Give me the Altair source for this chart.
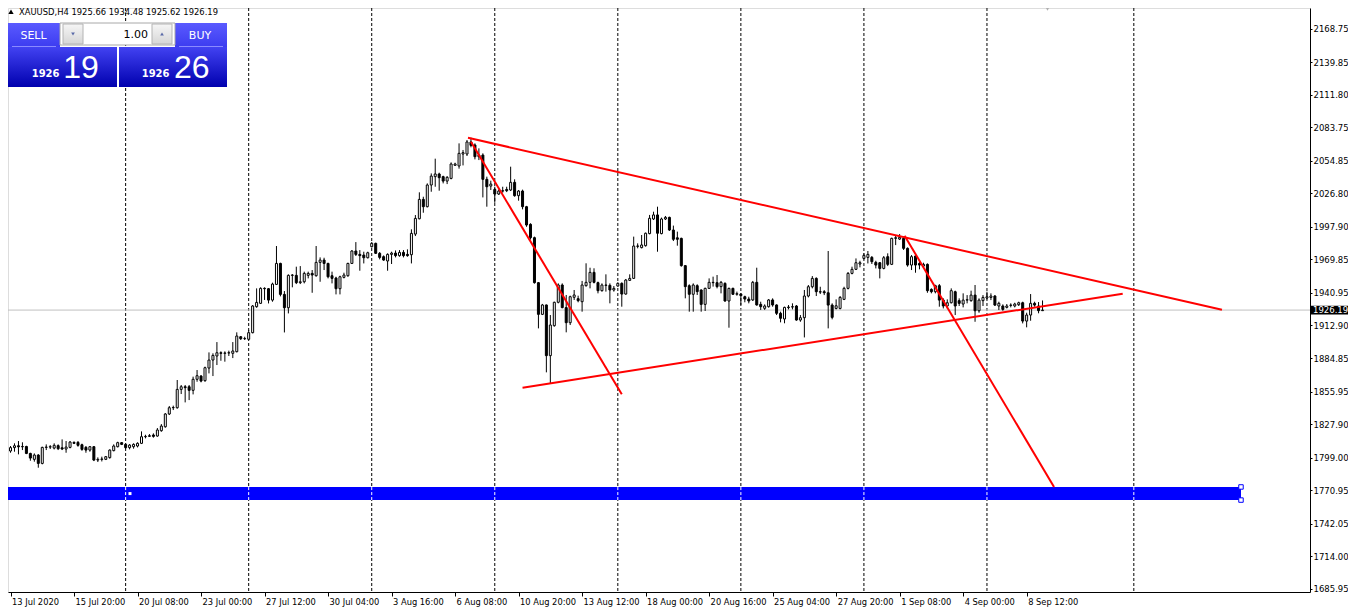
import altair as alt
import pandas as pd

# ---------------- data ----------------
O = [1804.7,1807.6,1809.2,1808.3,1808.6,1802.6,1797.5,1801.2,1794.0,1807.8,
     1808.1,1807.2,1809.3,1807.5,1806.4,1807.8,1812.1,1812.1,1810.1,1807.8,
     1805.5,1808.4,1796.9,1797.5,1797.5,1799.0,1805.0,1808.4,1811.9,1810.4,
     1807.6,1808.4,1809.0,1811.3,1817.0,1817.3,1818.5,1817.6,1822.2,1825.6,
     1836.6,1842.0,1842.0,1857.8,1860.1,1860.1,1857.0,1866.5,1869.3,1865.3,
     1876.2,1883.1,1886.6,1889.4,1888.9,1889.2,1888.9,1890.3,1903.2,1901.5,
     1901.0,1906.7,1929.1,1932.0,1944.9,1944.6,1934.8,1948.3,1966.4,1939.7,
     1928.2,1956.1,1956.1,1949.8,1950.6,1956.1,1957.8,1955.8,1967.3,1969.3,
     1966.4,1955.8,1953.8,1944.6,1954.4,1955.8,1966.4,1977.1,1974.2,1973.6,
     1971.3,1980.8,1983.7,1975.1,1972.2,1968.5,1974.2,1975.3,1973.1,1975.9,
     1974.2,1973.9,1991.7,2004.9,2021.6,2015.3,2034.0,2041.2,2043.5,2041.2,
     2037.4,2039.7,2051.0,2050.4,2060.7,2060.7,2071.1,2068.5,2058.4,2059.8,
     2038.9,2033.1,2030.2,2026.2,2028.8,2030.2,2029.7,2036.3,2024.8,2028.8,
     2015.3,2000.1,1988.6,1949.8,1922.5,1930.6,1886.9,1912.7,1932.9,1947.8,
     1928.3,1915.3,1937.2,1936.0,1933.4,1947.2,1950.1,1958.7,1949.8,1942.9,
     1947.8,1947.5,1943.5,1946.9,1949.2,1940.0,1951.8,1953.5,1981.4,1980.0,
     1981.7,1992.1,2004.7,2008.2,1992.1,2004.7,2006.1,1995.2,1988.5,1988.0,
     1964.5,1947.2,1939.8,1947.2,1943.5,1931.1,1944.9,1950.1,1949.8,1946.4,
     1949.2,1934.0,1944.9,1939.8,1940.0,1937.7,1935.7,1934.9,1950.1,1931.1,
     1927.7,1929.1,1934.9,1930.6,1923.4,1918.5,1928.3,1928.8,1929.7,1917.6,
     1919.6,1938.3,1946.3,1953.5,1942.0,1942.0,1941.1,1930.5,1927.6,1927.6,
     1935.4,1944.9,1957.8,1961.3,1965.9,1970.7,1971.6,1971.6,1967.3,1967.0,
     1962.1,1972.2,1965.6,1988.0,1987.4,1988.0,1979.4,1965.0,1972.8,1966.4,
     1964.1,1965.6,1944.0,1942.0,1947.2,1934.8,1929.7,1932.5,1942.0,1934.3,
     1931.4,1934.8,1934.3,1939.1,1925.6,1934.3,1936.6,1937.1,1938.3,1929.7,
     1929.7,1928.5,1930.2,1929.7,1930.8,1932.5,1916.7,1921.9,1932.0,1929.7,
     1925.66]
H = [1809.0,1811.3,1813.3,1812.2,1809.2,1803.2,1802.6,1802.0,1808.4,1810.4,
     1809.8,1811.3,1810.4,1814.7,1813.3,1813.3,1813.0,1813.3,1811.0,1809.0,
     1809.0,1809.0,1799.2,1799.8,1800.3,1806.1,1810.4,1812.7,1812.4,1811.3,
     1810.7,1811.3,1812.2,1821.6,1818.7,1819.3,1819.9,1824.5,1827.9,1837.4,
     1843.5,1843.8,1865.9,1861.6,1861.6,1861.6,1868.8,1874.5,1870.2,1877.4,
     1889.7,1888.9,1898.6,1890.6,1890.6,1891.2,1898.6,1907.0,1903.8,1903.2,
     1909.0,1930.5,1944.9,1945.8,1945.8,1945.2,1949.8,1981.4,1967.0,1942.6,
     1957.0,1957.2,1963.6,1964.1,1959.3,1959.3,1960.7,1981.4,1971.6,1971.3,
     1967.0,1959.3,1954.9,1955.8,1958.4,1967.0,1977.9,1984.8,1977.9,1976.5,
     1976.5,1984.8,1984.3,1976.2,1973.3,1975.1,1976.5,1977.6,1977.9,1977.9,
     1978.5,1995.8,2008.1,2027.7,2023.9,2035.4,2044.0,2056.7,2044.6,2042.0,
     2041.7,2053.5,2053.2,2069.9,2064.2,2072.8,2074.8,2069.9,2065.6,2061.3,
     2041.2,2037.7,2032.5,2030.2,2032.5,2032.5,2049.8,2038.9,2029.7,2030.0,
     2016.0,2001.0,1989.5,1950.4,1931.5,1930.9,1921.9,1933.4,1949.2,1949.2,
     1939.2,1938.6,1943.5,1938.6,1951.3,1966.5,1962.7,1962.2,1950.7,1949.2,
     1957.0,1949.2,1946.9,1950.1,1950.1,1953.0,1957.0,1989.5,1983.7,1990.9,
     1993.0,2008.2,2011.0,2015.3,2005.9,2007.3,2006.7,1999.0,1993.8,1988.6,
     1965.0,1948.4,1949.2,1948.4,1944.1,1945.5,1953.5,1955.0,1956.4,1951.3,
     1950.1,1945.5,1945.5,1942.1,1940.6,1938.6,1937.7,1951.3,1962.7,1933.4,
     1931.1,1935.7,1936.3,1931.1,1924.8,1929.1,1930.5,1932.0,1930.5,1921.9,
     1943.5,1947.8,1955.5,1954.4,1946.3,1943.4,1977.1,1932.0,1935.4,1938.3,
     1946.3,1959.0,1963.6,1970.7,1968.7,1975.1,1977.1,1972.8,1968.7,1967.6,
     1972.8,1975.1,1988.6,1990.9,1991.7,1989.4,1980.2,1973.6,1973.6,1967.9,
     1967.0,1966.4,1944.9,1948.0,1948.6,1936.3,1935.4,1944.9,1942.9,1936.3,
     1940.6,1939.1,1942.9,1947.8,1936.3,1939.1,1942.0,1940.6,1939.1,1933.4,
     1931.1,1931.4,1932.0,1932.5,1933.4,1933.4,1923.9,1940.0,1933.4,1933.1,
     1934.48]
L = [1803.2,1804.1,1801.8,1805.5,1802.0,1796.3,1795.5,1790.3,1793.2,1805.5,
     1806.4,1806.1,1805.5,1805.5,1803.2,1807.0,1810.7,1808.4,1804.9,1803.2,
     1804.1,1796.0,1795.2,1795.7,1796.9,1798.1,1804.4,1807.8,1809.8,1806.7,
     1806.1,1806.7,1807.8,1810.7,1815.6,1817.0,1816.2,1817.0,1821.3,1824.8,
     1835.7,1840.0,1841.2,1853.8,1846.6,1848.6,1853.5,1864.4,1863.9,1864.4,
     1871.6,1869.3,1878.8,1882.5,1881.7,1886.6,1884.8,1889.7,1900.4,1900.4,
     1900.4,1906.1,1928.2,1931.4,1934.9,1931.9,1933.4,1947.8,1938.0,1906.9,
     1923.3,1945.8,1948.6,1948.6,1949.2,1953.5,1941.1,1955.0,1950.6,1960.7,
     1953.5,1949.2,1939.7,1939.7,1953.5,1954.9,1965.9,1972.8,1960.1,1966.4,
     1970.7,1980.2,1974.5,1969.9,1968.7,1960.1,1965.9,1971.6,1972.2,1971.6,
     1972.2,1966.4,1990.0,2004.4,2010.1,2014.7,2028.2,2032.5,2029.1,2035.4,
     2034.8,2038.9,2050.4,2048.1,2050.9,2059.0,2066.5,2056.1,2055.5,2023.3,
     2015.3,2029.7,2018.7,2025.4,2027.4,2027.9,2028.8,2023.9,2020.5,2013.0,
     1998.0,1987.0,1949.0,1910.4,1921.9,1872.5,1863.0,1911.9,1932.0,1927.7,
     1907.0,1913.3,1934.9,1932.9,1924.8,1946.4,1944.9,1949.2,1940.6,1942.1,
     1942.1,1932.0,1942.1,1946.4,1929.1,1939.5,1951.3,1953.0,1979.4,1979.4,
     1980.9,1991.5,2003.8,1976.5,1991.5,2003.8,1994.4,1985.7,1981.7,1963.6,
     1936.3,1924.8,1924.8,1939.2,1924.8,1925.4,1944.4,1946.4,1944.9,1940.6,
     1933.4,1911.0,1939.2,1938.6,1930.6,1932.9,1932.0,1934.0,1930.0,1926.3,
     1926.3,1928.3,1929.1,1921.9,1915.6,1914.8,1926.8,1926.8,1917.0,1916.1,
     1902.6,1937.1,1944.9,1938.3,1940.0,1939.1,1910.4,1918.2,1926.8,1926.8,
     1934.8,1944.0,1957.0,1960.7,1963.0,1969.9,1966.4,1965.9,1962.1,1953.5,
     1961.3,1964.1,1965.0,1982.2,1986.6,1978.0,1963.6,1960.7,1958.4,1961.3,
     1963.0,1941.1,1940.6,1940.6,1929.1,1927.6,1927.6,1931.9,1921.9,1929.7,
     1928.5,1932.0,1933.4,1916.1,1923.9,1929.7,1935.4,1934.8,1929.7,1926.2,
     1925.6,1927.6,1928.5,1928.5,1929.7,1914.7,1911.3,1917.0,1929.1,1923.4,
     1925.62]
C = [1807.6,1809.2,1808.3,1808.6,1802.6,1798.6,1801.2,1794.0,1807.8,1808.1,
     1808.4,1809.6,1806.7,1806.4,1808.1,1812.4,1811.3,1809.6,1806.1,1805.5,
     1808.4,1796.9,1797.5,1797.8,1799.8,1805.5,1809.0,1811.9,1810.4,1807.6,
     1809.8,1810.4,1811.3,1817.0,1817.3,1817.9,1817.3,1822.8,1826.2,1836.6,
     1842.0,1842.2,1857.8,1860.1,1859.3,1857.0,1866.5,1869.6,1865.0,1876.5,
     1883.1,1887.1,1889.4,1888.9,1889.2,1889.4,1890.9,1903.8,1901.5,1901.7,
     1906.7,1929.7,1932.8,1944.9,1944.6,1934.8,1948.6,1966.4,1939.7,1928.2,
     1956.1,1956.4,1949.8,1950.6,1957.8,1957.8,1956.4,1967.3,1969.3,1966.4,
     1954.9,1953.5,1944.6,1954.9,1956.4,1966.4,1977.1,1974.2,1973.1,1971.3,
     1975.6,1983.7,1975.1,1971.6,1969.3,1974.2,1975.3,1973.1,1975.9,1973.1,
     1973.1,1992.3,2005.2,2021.6,2015.3,2034.0,2041.7,2043.5,2040.3,2037.4,
     2040.6,2052.1,2052.1,2061.3,2061.9,2071.1,2068.2,2058.4,2059.8,2038.9,
     2032.5,2034.8,2026.2,2028.8,2029.1,2029.1,2036.3,2024.8,2028.8,2015.3,
     1999.5,1988.6,1949.8,1922.5,1930.6,1886.9,1913.3,1932.9,1947.8,1928.3,
     1915.3,1937.7,1939.2,1934.3,1947.8,1950.1,1958.7,1950.1,1942.9,1947.8,
     1947.5,1943.5,1944.9,1949.2,1940.0,1952.1,1953.5,1981.4,1981.2,1982.3,
     1992.4,2005.3,2008.2,1992.4,2004.7,2006.1,1995.2,1987.2,1987.2,1964.5,
     1946.4,1939.8,1947.8,1942.1,1931.1,1944.9,1950.1,1949.8,1946.4,1950.1,
     1934.0,1944.9,1939.8,1940.3,1938.6,1935.7,1934.0,1950.1,1930.6,1929.1,
     1929.7,1934.9,1930.6,1923.4,1919.1,1928.5,1928.8,1929.1,1917.6,1919.6,
     1938.3,1946.3,1953.5,1942.0,1941.7,1941.1,1930.5,1919.9,1929.9,1937.1,
     1944.9,1957.8,1961.3,1967.0,1967.0,1973.3,1974.2,1967.9,1965.0,1962.1,
     1971.3,1965.6,1988.0,1988.6,1988.9,1979.4,1965.0,1972.2,1965.0,1965.0,
     1965.6,1942.9,1942.0,1947.2,1934.8,1929.7,1932.5,1942.9,1929.7,1932.0,
     1934.8,1935.1,1939.1,1925.6,1934.8,1937.1,1937.7,1938.3,1930.5,1932.0,
     1926.8,1929.7,1930.5,1931.4,1932.5,1916.7,1921.9,1932.0,1930.5,1925.66,
     1926.19]

x_tick_bars = [0, 16, 32, 48, 64, 80, 96, 112, 128, 144, 160, 176, 192, 208, 224, 240, 256]
x_tick_labels = ["13 Jul 2020", "15 Jul 20:00", "20 Jul 08:00", "23 Jul 00:00", "27 Jul 12:00",
                 "30 Jul 04:00", "3 Aug 16:00", "6 Aug 08:00", "10 Aug 20:00", "13 Aug 12:00",
                 "18 Aug 00:00", "20 Aug 16:00", "25 Aug 04:00", "27 Aug 20:00", "1 Sep 08:00",
                 "4 Sep 00:00", "8 Sep 12:00"]
y_ticks = [2168.75, 2139.85, 2111.80, 2083.75, 2054.85, 2026.80, 1997.90, 1969.85, 1940.95,
           1912.90, 1884.85, 1855.95, 1827.90, 1799.00, 1770.95, 1742.05, 1714.00, 1685.95]
grid_bars = [29, 60, 91, 122, 153, 184, 215, 246, 283]
last_price = 1926.19
header_text = "XAUUSD,H4  1925.66 1934.48 1925.62 1926.19"

# trend lines (bar index, price)
tl_x1 = [115.25, 129.0, 116.0, 225.25]
tl_y1 = [2074.7, 1859.3, 2071.3, 1990.3]
tl_x2 = [305.2, 280.2, 154.0, 262.9]
tl_y2 = [1926.5, 1940.3, 1853.6, 1773.7]

# blue rectangle (bar index, price)
rect_x = [-10.0, 310.0]
rect_y = [1762.4, 1773.7]
handle_x = [310.0, 310.0]
handle_y = [1773.7, 1762.4]
mid_handle = (30.1, 1768.0)
shift_marker_bar = 261.25

# ---------------- tables ----------------
df = pd.DataFrame({"i": list(range(len(O))), "o": O, "h": H, "l": L, "c": C})
grid_df = pd.DataFrame({"b": grid_bars})
grid_rect_df = pd.DataFrame({"b": grid_bars, "y1": [rect_y[0]] * len(grid_bars),
                             "y2": [rect_y[1]] * len(grid_bars)})
tl_df = pd.DataFrame({"x1": tl_x1, "y1": tl_y1, "x2": tl_x2, "y2": tl_y2})
rect_df = pd.DataFrame({"x1": [rect_x[0]], "x2": [rect_x[1]], "y1": [rect_y[0]], "y2": [rect_y[1]]})
handle_df = pd.DataFrame({"x": handle_x, "y": handle_y})
mid_df = pd.DataFrame({"x": [mid_handle[0]], "y": [mid_handle[1]]})
price_df = pd.DataFrame({"p": [last_price], "t": [f"{last_price:.2f}"]})
shift_df = pd.DataFrame({"x": [shift_marker_bar]})
one = pd.DataFrame({"k": [0]})

W, HGT = 1302, 584
PAD_R, PAD_B = 38, 15
XD = [0.625, 0.625 + W / 4.0]
YD = [1683.15, 2186.59]
xs = alt.Scale(domain=XD, nice=False, zero=False)
ys = alt.Scale(domain=YD, nice=False, zero=False)

FONT = "DejaVu Sans"
label_expr = "[" + ",".join("'" + s + "'" for s in x_tick_labels) + "][round(datum.value/16)]"

x_axis = alt.Axis(values=x_tick_bars, labelExpr=label_expr, orient="bottom", title=None,
                  grid=False, domain=True, domainColor="black", ticks=True, tickColor="black",
                  tickSize=4, labelAlign="left", labelBaseline="top", labelPadding=1,
                  labelOffset=1, labelFont=FONT, labelFontSize=8.3, labelColor="black",
                  labelFlush=False, labelOverlap=False)
y_axis = alt.Axis(values=y_ticks, format=".2f", orient="right", title=None, grid=False,
                  domain=True, domainColor="black", ticks=True, tickColor="black", tickSize=2,
                  labelPadding=1, labelFont=FONT, labelFontSize=8.5, labelColor="black",
                  labelAlign="left", labelBaseline="middle", labelOverlap=False, labelFlush=False)


def X(f):
    return alt.X(f, scale=xs, axis=x_axis)


def Y(f):
    return alt.Y(f, scale=ys, axis=y_axis)


layers = []

# dashed weekly grid
layers.append(alt.Chart(grid_df).mark_rule(color="black", strokeWidth=1, strokeDash=[3, 2]).encode(
    x=X("b:Q")))

# bid price line
layers.append(alt.Chart(price_df).mark_rule(color="#c0c0c0", strokeWidth=1).encode(y=Y("p:Q")))

# blue rectangle with grid showing through
layers.append(alt.Chart(rect_df).mark_rect(color="#0000ff", clip=True).encode(
    x=X("x1:Q"), x2="x2:Q", y=Y("y1:Q"), y2="y2:Q"))
layers.append(alt.Chart(grid_rect_df).mark_rule(color="white", strokeWidth=1, strokeDash=[3, 2]).encode(
    x=X("b:Q"), y=Y("y1:Q"), y2="y2:Q"))

# candles
layers.append(alt.Chart(df).mark_rule(color="black", strokeWidth=1).encode(
    x=X("i:Q"), y=Y("l:Q"), y2="h:Q"))
layers.append(alt.Chart(df).mark_bar(size=2, stroke="black", strokeWidth=1).encode(
    x=X("i:Q"), y=Y("o:Q"), y2="c:Q",
    fill=alt.condition(alt.datum.c >= alt.datum.o, alt.value("white"), alt.value("black"))))

# red trend lines
layers.append(alt.Chart(tl_df).mark_rule(color="#ff0000", strokeWidth=2).encode(
    x=X("x1:Q"), x2="x2:Q", y=Y("y1:Q"), y2="y2:Q"))

# rectangle handles
layers.append(alt.Chart(handle_df).mark_point(shape="square", size=20, filled=True, fill="white",
                                              stroke="#0000ff", strokeWidth=1, opacity=1).encode(
    x=X("x:Q"), y=Y("y:Q")))
layers.append(alt.Chart(mid_df).mark_point(shape="square", size=9, filled=True, color="white",
                                           opacity=1).encode(x=X("x:Q"), y=Y("y:Q")))

# chart shift marker
layers.append(alt.Chart(shift_df).mark_point(shape="triangle-down", size=40, filled=True,
                                             color="#b0b0b0", opacity=1).encode(
    x=X("x:Q"), y=alt.value(0)))

# last price label on the axis
layers.append(alt.Chart(price_df).transform_calculate(lo="datum.p - 3.75", hi="datum.p + 3.75").mark_rect(
    color="black").encode(x=alt.value(W), x2=alt.value(W + PAD_R), y=Y("lo:Q"), y2="hi:Q"))
layers.append(alt.Chart(price_df).mark_text(align="left", baseline="middle", font=FONT, fontSize=8.5,
                                            color="white").encode(
    x=alt.value(W + 3), y=Y("p:Q"), text="t:N"))


# ---------------- overlay widgets (pixel positions) ----------------
def vrect(x, x2, y, y2, **kw):
    return alt.Chart(one).mark_rect(**kw).encode(x=alt.value(x), x2=alt.value(x2),
                                                 y=alt.value(y), y2=alt.value(y2))


def vrule(x, x2, y, y2, **kw):
    return alt.Chart(one).mark_rule(**kw).encode(x=alt.value(x), x2=alt.value(x2),
                                                 y=alt.value(y), y2=alt.value(y2))


def vtext(s, x, y, **kw):
    return alt.Chart(one).mark_text(baseline="alphabetic", **kw).encode(
        x=alt.value(x), y=alt.value(y), text=alt.value(s))


def vpoint(x, y, **kw):
    return alt.Chart(one).mark_point(**kw).encode(x=alt.value(x), y=alt.value(y))


def grad(c1, c2):
    return alt.LinearGradient(gradient="linear", x1=0, x2=0, y1=0, y2=1,
                              stops=[alt.GradientStop(color=c1, offset=0),
                                     alt.GradientStop(color=c2, offset=1)])


DX, DY = 8, 8  # page offset of the plot area
layers += [
    vrect(8 - DX, 117 - DX, 47 - DY, 87 - DY, fill=grad("#4242f2", "#0000ae")),
    vrect(119 - DX, 227 - DX, 47 - DY, 87 - DY, fill=grad("#4242f2", "#0000ae")),
    vrect(8 - DX, 60 - DX, 23 - DY, 47 - DY, fill=grad("#5a5aff", "#3c3cf0")),
    vrect(175 - DX, 227 - DX, 23 - DY, 47 - DY, fill=grad("#5a5aff", "#3c3cf0")),
    vrect(60 - DX, 175 - DX, 23 - DY, 45 - DY, fill="white", stroke="#a8a8a8", strokeWidth=1),
    vrect(63 - DX, 83 - DX, 24 - DY, 44 - DY, fill=grad("#f6f6f6", "#d6d6d6"), stroke="#b4b4b4", strokeWidth=1),
    vrect(152 - DX, 172 - DX, 24 - DY, 44 - DY, fill=grad("#f6f6f6", "#d6d6d6"), stroke="#b4b4b4", strokeWidth=1),
    vpoint(73 - DX, 34 - DY, shape="triangle-down", size=14, filled=True, color="#5a6aa8", opacity=1),
    vpoint(162 - DX, 34 - DY, shape="triangle-up", size=14, filled=True, color="#5a6aa8", opacity=1),
    vrule(12 - DX, 56 - DX, 46.5 - DY, 46.5 - DY, color="#8a8aff", strokeWidth=1),
    vrule(179 - DX, 223 - DX, 46.5 - DY, 46.5 - DY, color="#8a8aff", strokeWidth=1),
    vtext("SELL", 33.5 - DX, 38.5 - DY, align="center", font=FONT, fontSize=11, color="white"),
    vtext("BUY", 200 - DX, 38.5 - DY, align="center", font=FONT, fontSize=11, color="white"),
    vtext("1.00", 148 - DX, 37.5 - DY, align="right", font=FONT, fontSize=11, color="black"),
    vtext("1926", 31.7 - DX, 77.3 - DY, align="left", font=FONT, fontSize=10, fontWeight="bold", color="white"),
    vtext("19", 63.3 - DX, 77.7 - DY, align="left", font="Liberation Sans", fontSize=32, color="white"),
    vtext("1926", 141.7 - DX, 77.3 - DY, align="left", font=FONT, fontSize=10, fontWeight="bold", color="white"),
    vtext("26", 174 - DX, 77.7 - DY, align="left", font="Liberation Sans", fontSize=32, color="white"),
    vpoint(11 - DX, 11.7 - DY, shape="triangle-up", size=28, filled=True, color="black", opacity=1),
    vtext(header_text, 19 - DX, 15 - DY, align="left", font=FONT, fontSize=8.4, color="black"),
]

chart = alt.layer(*layers).properties(
    width=W, height=HGT,
    autosize=alt.AutoSizeParams(type="none"),
    padding={"left": 0, "top": 0, "right": PAD_R, "bottom": PAD_B},
).configure_view(stroke="black", strokeWidth=1).configure(background="white")

chart.save("out.html", embed_options={"renderer": "svg", "actions": False})
